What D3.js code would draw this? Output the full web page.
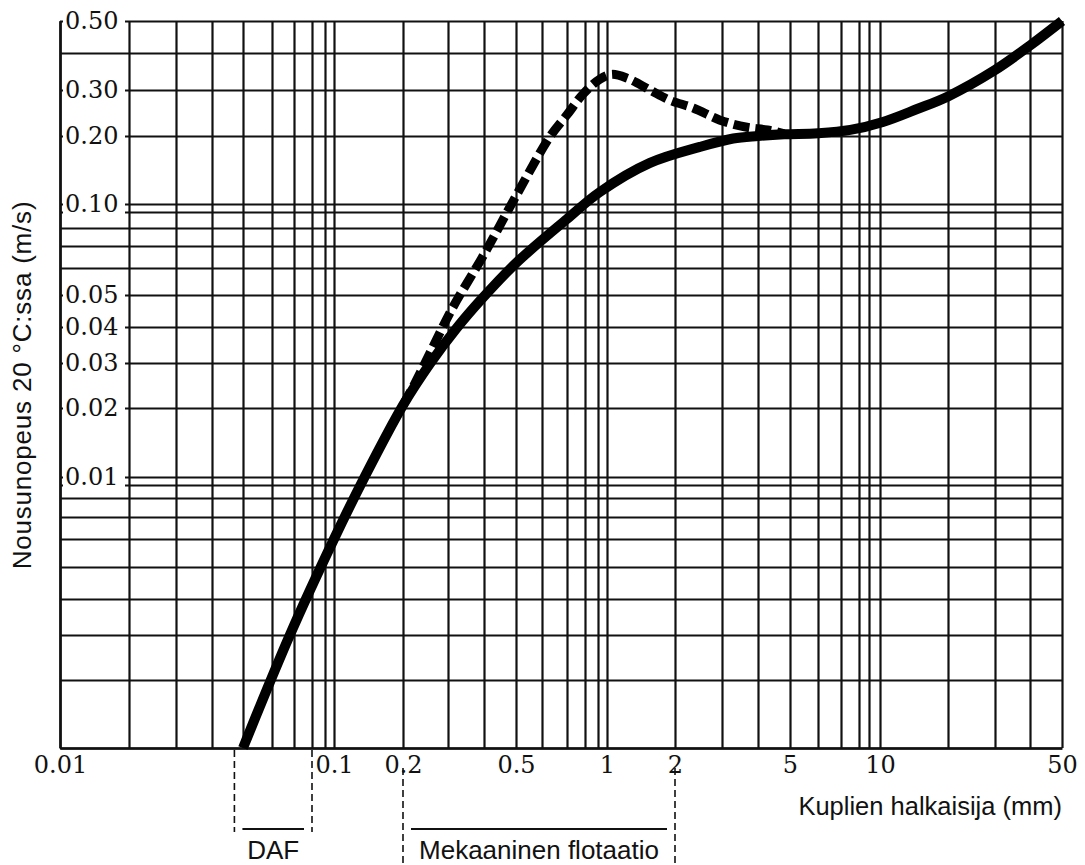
<!DOCTYPE html>
<html>
<head>
<meta charset="utf-8">
<script src="https://cdn.jsdelivr.net/npm/d3@7"></script>
<style>
  body { margin: 0; background: #fff; }
  svg { display: block; }
  .grid line { stroke: #111; stroke-width: 2.2; }
  .grid path { stroke: #111; stroke-width: 2.5; }
  .num { font-family: "DejaVu Serif", serif; font-size: 24px; fill: #111; }
  .sans { font-family: "Liberation Sans", Arial, sans-serif; font-size: 26px; fill: #111; }
</style>
</head>
<body>
<svg id="svg1" width="1085" height="865"></svg>
<script>
// log paper grid values (mm and m/s)
var xGrid = [0.01, 0.02, 0.03, 0.04, 0.05, 0.06, 0.07, 0.08, 0.09, 0.1,
             0.2, 0.3, 0.4, 0.5, 0.6, 0.7, 0.8, 0.9, 1,
             2, 3, 4, 5, 6, 7, 8, 9, 10, 20, 30, 40, 50];
var yGrid = [0.001, 0.002, 0.003, 0.004, 0.005, 0.006, 0.007, 0.008, 0.009, 0.01,
             0.02, 0.03, 0.04, 0.05, 0.06, 0.07, 0.08, 0.09, 0.1,
             0.2, 0.3, 0.4, 0.5];

var xTicks = [0.01, 0.1, 0.2, 0.5, 1, 2, 5, 10, 50];
var xTickLabels = ["0.01", "0.1", "0.2", "0.5", "1", "2", "5", "10", "50"];
var yTicks = [0.5, 0.3, 0.2, 0.1, 0.05, 0.04, 0.03, 0.02, 0.01];
var yTickLabels = ["0.50", "0.30", "0.20", "0.10", "0.05", "0.04", "0.03", "0.02", "0.01"];

// solid curve: rise velocity
var solidX = [0.05, 0.068, 0.1, 0.136, 0.2, 0.255, 0.322, 0.39, 0.5, 0.7,
              0.92, 1.55, 2.48, 3.28, 4.0, 4.8, 6, 7.5, 10.3, 14.6,
              20, 30, 40, 50];
var solidY = [0.001, 0.003, 0.006, 0.01, 0.0205, 0.0298, 0.0397, 0.0483, 0.0621, 0.0855,
              0.113, 0.152, 0.179, 0.195, 0.2, 0.203, 0.205, 0.211, 0.2264, 0.2537,
              0.2836, 0.3504, 0.4215, 0.5];

// dashed curve
var dashedX = [0.2, 0.219, 0.255, 0.312, 0.4, 0.5, 0.63, 0.7, 0.789, 0.921,
               1.052, 1.226, 1.55, 1.9, 2.34, 2.95, 3.66, 4.27, 4.8];
var dashedY = [0.0205, 0.0242, 0.0325, 0.0459, 0.066, 0.1085, 0.1985, 0.241, 0.2896, 0.3266,
               0.3387, 0.329, 0.3, 0.274, 0.256, 0.23, 0.216, 0.211, 0.204];

// ranges under the x axis
var rangeNames = ["DAF", "Mekaaninen flotaatio"];
var rangeFrom = [0.047, 0.2];
var rangeTo = [0.08, 2];

var params = {
  "svg": { "width": 1085, "height": 865 },
  // the scanned paper is not an even log grid, so each grid line gets its own pixel
  "xPx": [60, 129, 176, 212, 243, 272, 294, 312, 325, 334,
          403, 448, 484, 516, 542, 567, 585, 598, 607,
          675, 722, 758, 790, 818, 841, 859, 869, 880, 948, 995, 1030, 1062],
  "yPx": [748, 680, 635, 599, 567, 539, 517, 498, 485, 477,
          408, 363, 327, 295, 268, 246, 228, 212, 204,
          136, 90, 53, 21],
  "rangeTop": [750, 768],
  "rangeBottom": [832, 865],
  "rangeBar": 829,
  "rangeText": 859
};

var scale = {
  "x": d3.scaleLog().domain(xGrid).range(params.xPx),
  "y": d3.scaleLog().domain(yGrid).range(params.yPx)
};

var plotLeft = scale.x(0.01), plotRight = scale.x(50);
var plotTop = scale.y(0.5), plotBottom = scale.y(0.001);

var svg = d3.select("#svg1");

// vertical grid lines + bottom border
var gx = svg.append("g")
  .attr("class", "grid")
  .attr("transform", "translate(0," + plotBottom + ")")
  .call(d3.axisBottom(scale.x).tickValues(xGrid).tickSize(-(plotBottom - plotTop)).tickSizeOuter(0).tickFormat(""));

// horizontal grid lines + left border
var gy = svg.append("g")
  .attr("class", "grid")
  .attr("transform", "translate(" + plotLeft + ",0)")
  .call(d3.axisRight(scale.y).tickValues(yGrid).tickSize(plotRight - plotLeft).tickSizeOuter(0).tickFormat(""));

// y labels sit inside the paper on a white patch
var yl = svg.append("g")
  .attr("transform", "translate(" + plotLeft + ",0)")
  .call(d3.axisRight(scale.y).tickValues(yTicks).tickSize(0).tickPadding(5)
    .tickFormat(function(d, i) { return yTickLabels[i]; }));
yl.select(".domain").remove();
yl.selectAll(".tick").insert("rect", "text")
  .attr("x", 3).attr("y", -12).attr("width", 62).attr("height", 24)
  .attr("fill", "#fff");
yl.selectAll(".tick text").attr("class", "num").attr("font-family", null).attr("font-size", null);

// x labels
var xl = svg.append("g")
  .attr("transform", "translate(0," + plotBottom + ")")
  .call(d3.axisBottom(scale.x).tickValues(xTicks).tickSize(0).tickPadding(8)
    .tickFormat(function(d, i) { return xTickLabels[i]; }));
xl.select(".domain").remove();
xl.selectAll(".tick text").attr("class", "num").attr("font-family", null).attr("font-size", null);

// curves
var line = d3.line()
  .x(function(d) { return scale.x(d[0]); })
  .y(function(d) { return scale.y(d[1]); })
  .curve(d3.curveCatmullRom.alpha(0.5));

var solid = solidX.map(function(x, i) { return [x, solidY[i]]; });
var dashed = dashedX.map(function(x, i) { return [x, dashedY[i]]; });

svg.append("path")
  .attr("d", line(dashed))
  .attr("fill", "none")
  .attr("stroke", "#000")
  .attr("stroke-width", 9)
  .attr("stroke-dasharray", "16,6");

svg.append("path")
  .attr("d", line(solid))
  .attr("fill", "none")
  .attr("stroke", "#000")
  .attr("stroke-width", 10);

// axis titles
svg.append("text")
  .attr("class", "sans")
  .attr("text-anchor", "end")
  .attr("x", plotRight)
  .attr("y", 815)
  .style("font-size", "25.5px")
  .text("Kuplien halkaisija (mm)");

svg.append("text")
  .attr("class", "sans")
  .attr("text-anchor", "middle")
  .attr("transform", "translate(31,385) rotate(-90)")
  .style("letter-spacing", "0.8px")
  .text("Nousunopeus 20 °C:ssa (m/s)");

// DAF / mechanical flotation brackets
rangeNames.forEach(function(name, i) {
  var x0 = scale.x(rangeFrom[i]), x1 = scale.x(rangeTo[i]);
  var g = svg.append("g");
  [x0, x1].forEach(function(x) {
    g.append("line")
      .attr("x1", x).attr("x2", x)
      .attr("y1", params.rangeTop[i]).attr("y2", params.rangeBottom[i])
      .attr("stroke", "#111").attr("stroke-width", 1.6)
      .attr("stroke-dasharray", "7,4");
  });
  g.append("line")
    .attr("x1", x0 + 8).attr("x2", x1 - 8)
    .attr("y1", params.rangeBar).attr("y2", params.rangeBar)
    .attr("stroke", "#111").attr("stroke-width", 2);
  g.append("text")
    .attr("class", "sans")
    .attr("text-anchor", "middle")
    .attr("x", (x0 + x1) / 2)
    .attr("y", params.rangeText)
    .text(name);
});
</script>
</body>
</html>
